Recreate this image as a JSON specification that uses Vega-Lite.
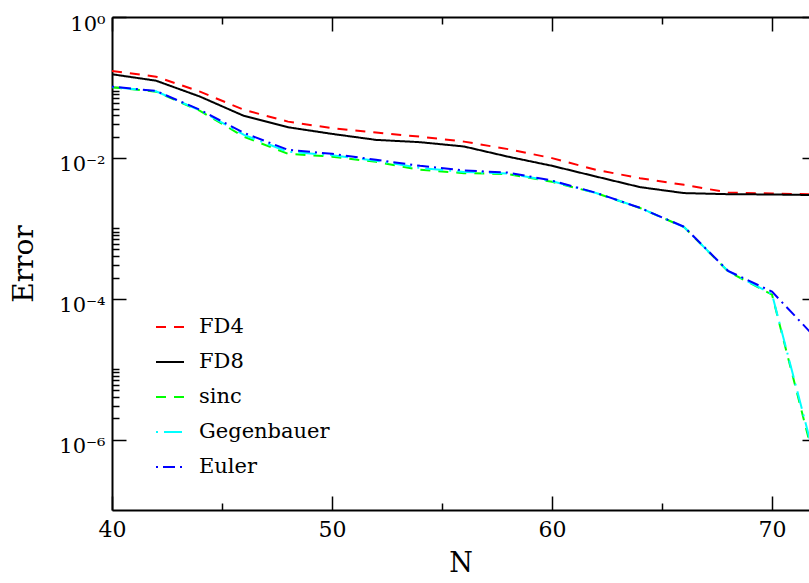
{
  "$schema": "https://vega.github.io/schema/vega-lite/v6.json",
  "width": 697,
  "height": 493,
  "autosize": {"type": "none"},
  "padding": {"left": 112, "top": 17, "right": 0, "bottom": 73},
  "background": "white",
  "config": {
    "view": {"stroke": null},
    "font": "DejaVu Serif",
    "axis": {
      "grid": false,
      "domainColor": "black",
      "domainWidth": 2,
      "tickColor": "black",
      "tickWidth": 1.5,
      "labelColor": "black",
      "labelFont": "DejaVu Serif",
      "labelFontSize": 21,
      "titleFont": "DejaVu Serif",
      "titleFontSize": 28,
      "titleFontWeight": "normal",
      "titleColor": "black"
    }
  },
  "data": {
    "values": [
      {"N": 40, "method": "FD4", "err": 0.1714},
      {"N": 42, "method": "FD4", "err": 0.1422},
      {"N": 44, "method": "FD4", "err": 0.0871},
      {"N": 46, "method": "FD4", "err": 0.048},
      {"N": 48, "method": "FD4", "err": 0.0327},
      {"N": 50, "method": "FD4", "err": 0.0264},
      {"N": 52, "method": "FD4", "err": 0.0229},
      {"N": 54, "method": "FD4", "err": 0.02},
      {"N": 56, "method": "FD4", "err": 0.017},
      {"N": 58, "method": "FD4", "err": 0.0133},
      {"N": 60, "method": "FD4", "err": 0.00991},
      {"N": 62, "method": "FD4", "err": 0.00676},
      {"N": 64, "method": "FD4", "err": 0.00515},
      {"N": 66, "method": "FD4", "err": 0.00414},
      {"N": 68, "method": "FD4", "err": 0.00322},
      {"N": 70, "method": "FD4", "err": 0.00312},
      {"N": 72, "method": "FD4", "err": 0.00303},
      {"N": 40, "method": "FD8", "err": 0.1538},
      {"N": 42, "method": "FD8", "err": 0.1247},
      {"N": 44, "method": "FD8", "err": 0.0741},
      {"N": 46, "method": "FD8", "err": 0.0394},
      {"N": 48, "method": "FD8", "err": 0.0272},
      {"N": 50, "method": "FD8", "err": 0.0219},
      {"N": 52, "method": "FD8", "err": 0.018},
      {"N": 54, "method": "FD8", "err": 0.0167},
      {"N": 56, "method": "FD8", "err": 0.0145},
      {"N": 58, "method": "FD8", "err": 0.0104},
      {"N": 60, "method": "FD8", "err": 0.00771},
      {"N": 62, "method": "FD8", "err": 0.00543},
      {"N": 64, "method": "FD8", "err": 0.00384},
      {"N": 66, "method": "FD8", "err": 0.00316},
      {"N": 68, "method": "FD8", "err": 0.00305},
      {"N": 70, "method": "FD8", "err": 0.00302},
      {"N": 72, "method": "FD8", "err": 0.00296},
      {"N": 40, "method": "sinc", "err": 0.1007},
      {"N": 42, "method": "sinc", "err": 0.0871},
      {"N": 44, "method": "sinc", "err": 0.0465},
      {"N": 46, "method": "sinc", "err": 0.0199},
      {"N": 48, "method": "sinc", "err": 0.0114},
      {"N": 50, "method": "sinc", "err": 0.0104},
      {"N": 52, "method": "sinc", "err": 0.00877},
      {"N": 54, "method": "sinc", "err": 0.00676},
      {"N": 56, "method": "sinc", "err": 0.00607},
      {"N": 58, "method": "sinc", "err": 0.00587},
      {"N": 60, "method": "sinc", "err": 0.00457},
      {"N": 62, "method": "sinc", "err": 0.00316},
      {"N": 64, "method": "sinc", "err": 0.00194},
      {"N": 66, "method": "sinc", "err": 0.00104},
      {"N": 68, "method": "sinc", "err": 0.000244},
      {"N": 70, "method": "sinc", "err": 0.000114},
      {"N": 72, "method": "sinc", "err": 4.0e-7},
      {"N": 40, "method": "Gegenbauer", "err": 0.1016},
      {"N": 42, "method": "Gegenbauer", "err": 0.0881},
      {"N": 44, "method": "Gegenbauer", "err": 0.0472},
      {"N": 46, "method": "Gegenbauer", "err": 0.0212},
      {"N": 48, "method": "Gegenbauer", "err": 0.0122},
      {"N": 50, "method": "Gegenbauer", "err": 0.0109},
      {"N": 52, "method": "Gegenbauer", "err": 0.0091},
      {"N": 54, "method": "Gegenbauer", "err": 0.0072},
      {"N": 56, "method": "Gegenbauer", "err": 0.0063},
      {"N": 58, "method": "Gegenbauer", "err": 0.006},
      {"N": 60, "method": "Gegenbauer", "err": 0.00466},
      {"N": 62, "method": "Gegenbauer", "err": 0.00317},
      {"N": 64, "method": "Gegenbauer", "err": 0.00195},
      {"N": 66, "method": "Gegenbauer", "err": 0.00104},
      {"N": 68, "method": "Gegenbauer", "err": 0.000247},
      {"N": 70, "method": "Gegenbauer", "err": 0.000116},
      {"N": 72, "method": "Gegenbauer", "err": 4.6e-7},
      {"N": 40, "method": "Euler", "err": 0.1026},
      {"N": 42, "method": "Euler", "err": 0.0891},
      {"N": 44, "method": "Euler", "err": 0.048},
      {"N": 46, "method": "Euler", "err": 0.0226},
      {"N": 48, "method": "Euler", "err": 0.013},
      {"N": 50, "method": "Euler", "err": 0.0114},
      {"N": 52, "method": "Euler", "err": 0.00938},
      {"N": 54, "method": "Euler", "err": 0.00771},
      {"N": 56, "method": "Euler", "err": 0.00661},
      {"N": 58, "method": "Euler", "err": 0.00618},
      {"N": 60, "method": "Euler", "err": 0.00476},
      {"N": 62, "method": "Euler", "err": 0.00319},
      {"N": 64, "method": "Euler", "err": 0.00195},
      {"N": 66, "method": "Euler", "err": 0.00105},
      {"N": 68, "method": "Euler", "err": 0.000249},
      {"N": 70, "method": "Euler", "err": 0.000126},
      {"N": 72, "method": "Euler", "err": 2.74e-5}
    ]
  },
  "layer": [
    {
      "mark": {"type": "line", "strokeWidth": 2, "clip": true, "strokeCap": "butt"},
      "encoding": {
        "x": {
          "field": "N",
          "type": "quantitative",
          "scale": {"domain": [40, 71.68], "nice": false, "zero": false},
          "axis": {
            "orient": "bottom",
            "values": [40, 45, 50, 55, 60, 65, 70],
            "tickSize": {"condition": {"test": "datum.value % 10 == 0", "value": -14}, "value": -7},
            "labelExpr": "datum.value % 10 == 0 ? datum.label : ''",
            "labelFontSize": 22,
            "labelPadding": 23,
            "labelFlush": false,
            "labelOverlap": false,
            "title": "N",
            "titleFontSize": 27,
            "titlePadding": 3
          }
        },
        "y": {
          "field": "err",
          "type": "quantitative",
          "scale": {"type": "log", "domain": [1e-7, 1], "nice": false},
          "axis": {
            "orient": "left",
            "values": [1, 0.1, 0.09, 0.08, 0.07, 0.06, 0.05, 0.04, 0.03, 0.02, 0.01, 0.001, 0.0009, 0.0008, 0.0007, 0.0006, 0.0005, 0.0004, 0.0003, 0.0002, 0.0001, 0.00001, 0.000009, 0.000008, 0.000007, 0.000006, 0.000005, 0.000004, 0.000003, 0.000002, 0.000001],
            "tickSize": {"condition": {"test": "datum.value > 0.5 || (datum.value > 0.0099 && datum.value < 0.0101) || (datum.value > 0.000099 && datum.value < 0.000101) || (datum.value > 0.00000099 && datum.value < 0.00000101)", "value": -14}, "value": -7},
            "labelExpr": "datum.value > 0.5 ? '10⁰' : (datum.value > 0.0099 && datum.value < 0.0101) ? '10⁻²' : (datum.value > 0.000099 && datum.value < 0.000101) ? '10⁻⁴' : (datum.value > 0.00000099 && datum.value < 0.00000101) ? '10⁻⁶' : ''",
            "labelPadding": 21,
            "labelOffset": 7,
            "labelFlush": false,
            "labelOverlap": false,
            "title": "Error",
            "titlePadding": 20
          }
        },
        "color": {
          "field": "method",
          "type": "nominal",
          "sort": ["FD4", "FD8", "sinc", "Gegenbauer", "Euler"],
          "scale": {
            "domain": ["FD4", "FD8", "sinc", "Gegenbauer", "Euler"],
            "range": ["#ff0000", "#000000", "#00ff00", "#00ffff", "#0000ff"]
          },
          "legend": {
            "orient": "none",
            "legendX": 43,
            "legendY": 295,
            "title": null,
            "padding": 0,
            "symbolType": "stroke",
            "symbolSize": 784,
            "symbolStrokeWidth": 2,
            "labelFont": "DejaVu Serif",
            "labelFontSize": 21,
            "labelColor": "black",
            "labelOffset": 14,
            "rowPadding": 10
          }
        },
        "strokeDash": {
          "field": "method",
          "type": "nominal",
          "sort": ["FD4", "FD8", "sinc", "Gegenbauer", "Euler"],
          "scale": {
            "domain": ["FD4", "FD8", "sinc", "Gegenbauer", "Euler"],
            "range": [[10, 8], [1, 0], [10, 8], [2, 6, 18, 6], [2, 5, 12, 5]]
          },
          "legend": {
            "orient": "none",
            "legendX": 43,
            "legendY": 295,
            "title": null,
            "padding": 0,
            "symbolType": "stroke",
            "symbolSize": 784,
            "symbolStrokeWidth": 2,
            "labelFont": "DejaVu Serif",
            "labelFontSize": 21,
            "labelColor": "black",
            "labelOffset": 14,
            "rowPadding": 10
          }
        }
      }
    },
    {
      "mark": {"type": "line", "opacity": 0, "clip": true},
      "encoding": {
        "x": {
          "field": "N",
          "type": "quantitative",
          "axis": {
            "orient": "top",
            "values": [40, 45, 50, 55, 60, 65, 70],
            "tickSize": {"condition": {"test": "datum.value % 10 == 0", "value": -14}, "value": -7},
            "labels": false,
            "title": null
          }
        },
        "y": {
          "field": "err",
          "type": "quantitative",
          "axis": {
            "orient": "right",
            "offset": 7,
            "domain": false,
            "values": [1, 0.1, 0.09, 0.08, 0.07, 0.06, 0.05, 0.04, 0.03, 0.02, 0.01, 0.001, 0.0009, 0.0008, 0.0007, 0.0006, 0.0005, 0.0004, 0.0003, 0.0002, 0.0001, 0.00001, 0.000009, 0.000008, 0.000007, 0.000006, 0.000005, 0.000004, 0.000003, 0.000002, 0.000001],
            "tickSize": {"condition": {"test": "datum.value > 0.5 || (datum.value > 0.0099 && datum.value < 0.0101) || (datum.value > 0.000099 && datum.value < 0.000101) || (datum.value > 0.00000099 && datum.value < 0.00000101)", "value": -14}, "value": -7},
            "labels": false,
            "title": null
          }
        },
        "detail": {"field": "method", "type": "nominal"}
      }
    }
  ],
  "resolve": {"axis": {"x": "independent", "y": "independent"}}
}
